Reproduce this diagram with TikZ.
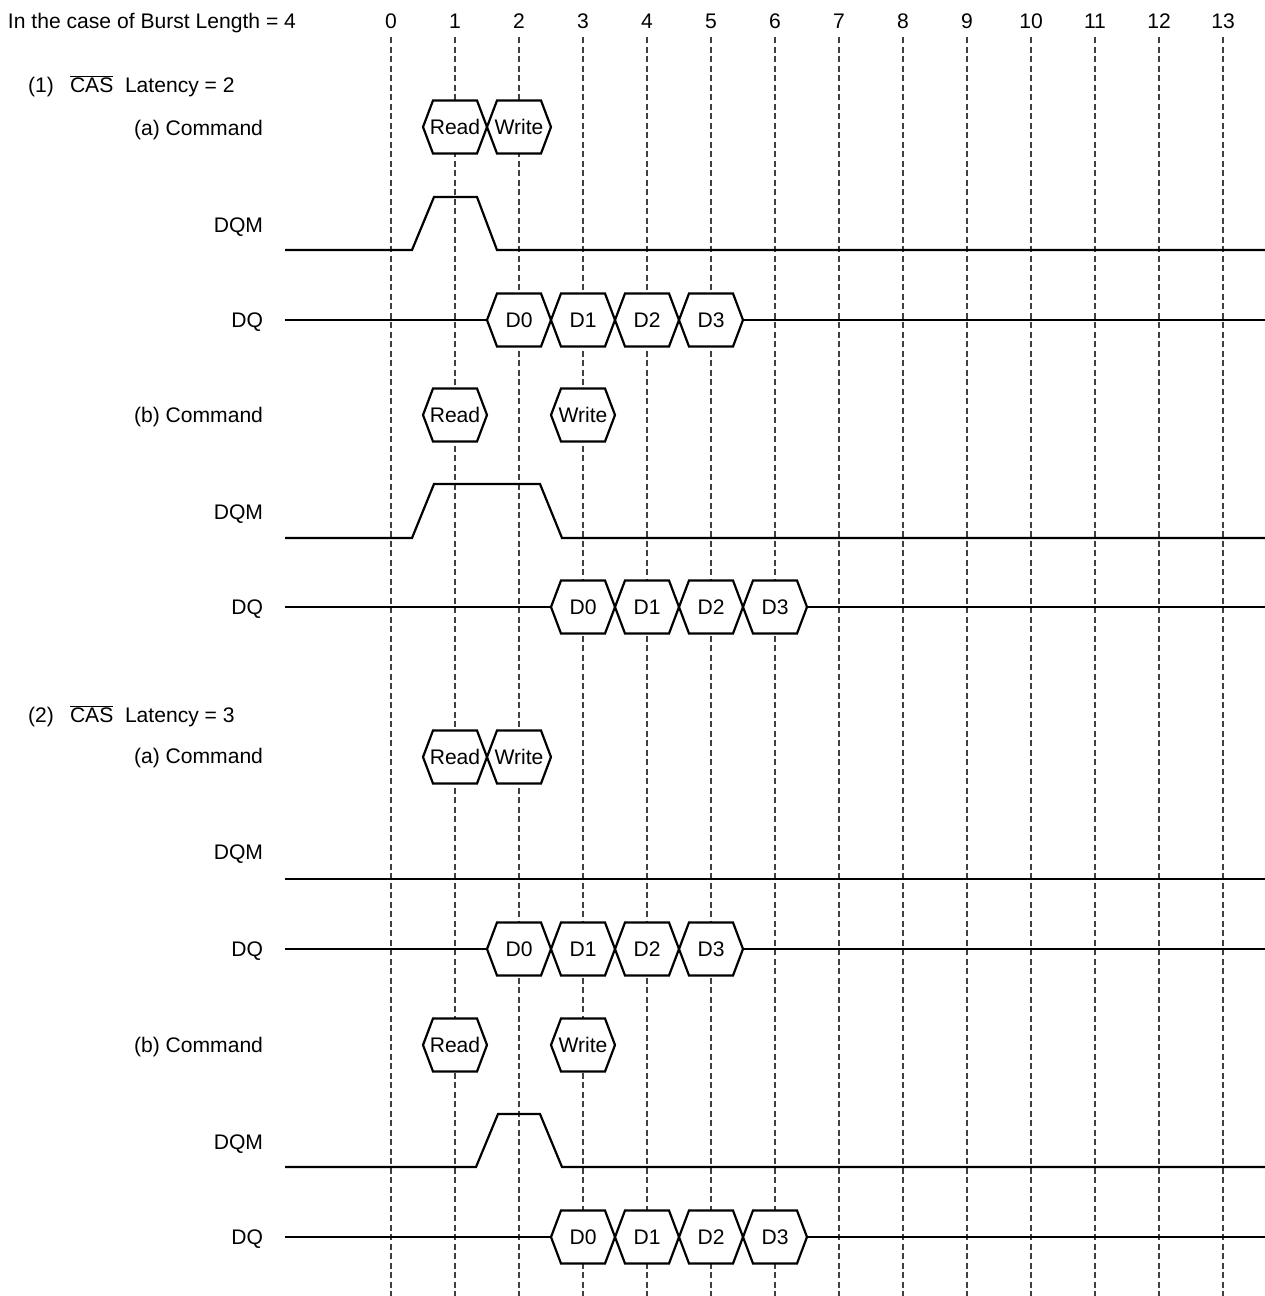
\documentclass[tikz,border=0pt]{standalone}
\usepackage{fontspec}
\setmainfont{Liberation Sans}
\begin{document}
\begin{tikzpicture}[x=1pt,y=-1pt,
  every node/.style={inner sep=0pt,outer sep=0pt,font=\fontsize{21.1}{25}\selectfont},
  grid/.style={draw=black!75,line width=1.2pt,dash pattern=on 6pt off 3.5pt},
  sig/.style={draw=black,line width=2.2pt,line join=miter},
  hexs/.style={draw=black,line width=2.2pt,fill=white,line join=miter},
  lab/.style={anchor=base east},
  txt/.style={anchor=base}]
\useasboundingbox (0,0) rectangle (1265,1296);
% grid
\foreach \i in {0,...,13}{
  \coordinate (gt\i) at (391+64*\i,37);
  \coordinate (gb\i) at (391+64*\i,1296);
  \draw[grid] (gt\i) -- (gb\i);
  \node[txt] (n\i) at (391+64*\i,28) {\i};
}
\newcommand\hexsig[4]{%
  \draw[hexs] (#2-32,#3) -- (#2-22,#3-26.5) -- (#2+22,#3-26.5) -- (#2+32,#3) -- (#2+22,#3+26.5) -- (#2-22,#3+26.5) -- cycle;
  \coordinate (#1-w) at (#2-32,#3);
  \coordinate (#1-e) at (#2+32,#3);
  \node[txt] (#1) at (#2,#3+7.5) {#4};}
% titles
\node[anchor=base west] (title) at (8,28) {In the case of Burst Length = 4};
\node[anchor=base west] (s1n) at (28,92) {(1)};
\node[anchor=base west] (s1c) at (70,92) {$\overline{\mbox{CAS}}$};
\node[anchor=base west] (s1l) at (125,92) {Latency = 2};
\node[anchor=base west] (s2n) at (28,722) {(2)};
\node[anchor=base west] (s2c) at (70,722) {$\overline{\mbox{CAS}}$};
\node[anchor=base west] (s2l) at (125,722) {Latency = 3};
% ---------- (1a)
\node[lab] (c1a) at (263,135) {(a) Command};
\hexsig{r1a}{455}{127}{Read}
\hexsig{w1a}{519}{127}{Write}
\node[lab] (m1a) at (263,232) {DQM};
\coordinate (m1as) at (285,250); \coordinate (m1ae) at (1265,250);
\draw[sig] (m1as) -- (412,250) -- (434,197) -- (477,197) -- (497,250) -- (m1ae);
\node[lab] (q1a) at (263,327) {DQ};
\coordinate (q1as) at (285,320); \coordinate (q1ae) at (1265,320);
\hexsig{d01a}{519}{320}{D0}
\hexsig{d11a}{583}{320}{D1}
\hexsig{d21a}{647}{320}{D2}
\hexsig{d31a}{711}{320}{D3}
\draw[sig] (q1as) -- (d01a-w);
\draw[sig] (d31a-e) -- (q1ae);
% ---------- (1b)
\node[lab] (c1b) at (263,422.5) {(b) Command};
\hexsig{r1b}{455}{415}{Read}
\hexsig{w1b}{583}{415}{Write}
\node[lab] (m1b) at (263,519.5) {DQM};
\coordinate (m1bs) at (285,538); \coordinate (m1be) at (1265,538);
\draw[sig] (m1bs) -- (412,538) -- (434,484) -- (540,484) -- (562,538) -- (m1be);
\node[lab] (q1b) at (263,614.5) {DQ};
\coordinate (q1bs) at (285,607); \coordinate (q1be) at (1265,607);
\hexsig{d01b}{583}{607}{D0}
\hexsig{d11b}{647}{607}{D1}
\hexsig{d21b}{711}{607}{D2}
\hexsig{d31b}{775}{607}{D3}
\draw[sig] (q1bs) -- (d01b-w);
\draw[sig] (d31b-e) -- (q1be);
% ---------- (2a)
\node[lab] (c2a) at (263,763) {(a) Command};
\hexsig{r2a}{455}{757}{Read}
\hexsig{w2a}{519}{757}{Write}
\node[lab] (m2a) at (263,859.5) {DQM};
\coordinate (m2as) at (285,879); \coordinate (m2ae) at (1265,879);
\draw[sig] (m2as) -- (m2ae);
\node[lab] (q2a) at (263,956.5) {DQ};
\coordinate (q2as) at (285,949); \coordinate (q2ae) at (1265,949);
\hexsig{d02a}{519}{949}{D0}
\hexsig{d12a}{583}{949}{D1}
\hexsig{d22a}{647}{949}{D2}
\hexsig{d32a}{711}{949}{D3}
\draw[sig] (q2as) -- (d02a-w);
\draw[sig] (d32a-e) -- (q2ae);
% ---------- (2b)
\node[lab] (c2b) at (263,1052.5) {(b) Command};
\hexsig{r2b}{455}{1045}{Read}
\hexsig{w2b}{583}{1045}{Write}
\node[lab] (m2b) at (263,1149.5) {DQM};
\coordinate (m2bs) at (285,1167); \coordinate (m2be) at (1265,1167);
\draw[sig] (m2bs) -- (476,1167) -- (498,1114) -- (540,1114) -- (562,1167) -- (m2be);
\node[lab] (q2b) at (263,1244.5) {DQ};
\coordinate (q2bs) at (285,1237); \coordinate (q2be) at (1265,1237);
\hexsig{d02b}{583}{1237}{D0}
\hexsig{d12b}{647}{1237}{D1}
\hexsig{d22b}{711}{1237}{D2}
\hexsig{d32b}{775}{1237}{D3}
\draw[sig] (q2bs) -- (d02b-w);
\draw[sig] (d32b-e) -- (q2be);
\end{tikzpicture}
\end{document}
